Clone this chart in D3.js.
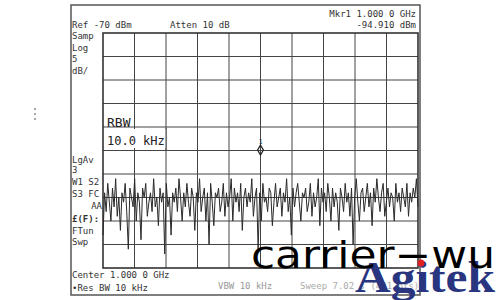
<!DOCTYPE html>
<html>
<head>
<meta charset="utf-8">
<script src="https://cdn.jsdelivr.net/npm/d3@7"></script>
<style>
  body { margin: 0; background: #fff; }
  svg { display: block; }
  .mono { font-family: "DejaVu Sans Mono", "Liberation Mono", monospace; fill: #333; }
</style>
</head>
<body>
<div id="chart"></div>
<script>
// trace values in dBm (left to right)
const noise = [
  -113,-104,-108,-102,-106,-110,-103,-107,-101,-109,
  -105,-112,-104,-106,-102,-108,-116,-103,-105,-107,
  -101,-110,-104,-106,-114,-103,-105,-102,-109,-106,
  -104,-108,-101,-107,-105,-111,-103,-106,-104,-117,
  -102,-107,-105,-113,-104,-106,-103,-108,-101,-105,
  -110,-104,-107,-102,-106,-109,-103,-105,-112,-104,
  -106,-101,-108,-105,-103,-110,-104,-115,-102,-106,
  -111,-104,-105,-103,-108,-106,-102,-109,-104,-107,
  -105,-101,-110,-103,-106,-104,-108,-102,-112,-105,
  -103,-107,-104,-106,-101,-109,-105,-103,-116,-104,
  -110,-102,-106,-105,-108,-103,-104,-111,-106,-102,
  -107,-105,-103,-109,-104,-106,-101,-108,-105,-113,
  -103,-107,-104,-102,-106,-110,-104,-105,-103,-108,
  -106,-102,-109,-104,-107,-105,-101,-111,-103,-106,
  -104,-108,-102,-105,-110,-103,-107,-104,-106,-112,
  -103,-105,-108,-102,-106,-104,-109,-103,-115,-105,
  -101,-106,-110,-104,-103,-108,-105,-102,-107,-104,
  -111,-103,-106,-101,-105,-108,-104,-102,-109,-106,
  -103,-107,-104,-105,-110,-102,-106,-104,-108,-103,
  -105,-107,-102,-109,-104,-106,-103,-105,-101,-107
];
const refLevel = -70;      // dBm, top of screen
const dbPerDiv = 5;
const numDivs = 10;
const markerDiv = 5;       // marker sits on centre division
const markerValue = -94.91;

const headerLeft = ["Ref -70 dBm", "Atten 10 dB"];
const headerRight = ["Mkr1 1.000 0 GHz", "-94.910 dBm"];
const sideTop = ["Samp", "Log", "5", "dB/"];
const sideBottom = ["LgAv", "3", "W1  S2", "S3  FC", "£(F):", "FTun", "Swp"];
const footer = ["Center 1.000 0 GHz", "\u2022Res BW 10 kHz"];

const svg = d3.select("#chart").append("svg")
    .attr("width", 500)
    .attr("height", 300);

const grid = { left: 103, right: 418, top: 33, bottom: 268 };

const x = d3.scaleLinear().domain([0, noise.length - 1]).range([grid.left, grid.right]);
const xDiv = d3.scaleLinear().domain([0, numDivs]).range([grid.left, grid.right]);
const y = d3.scaleLinear()
    .domain([refLevel - dbPerDiv * numDivs, refLevel])
    .range([grid.bottom, grid.top]);

// outer frame of the screen
svg.append("rect")
    .attr("x", 71).attr("y", 5).attr("width", 349).attr("height", 290)
    .style("fill", "none").style("stroke", "#555").style("stroke-width", 1.5);

// three little dots at the left
svg.selectAll(".dot").data([108, 113, 118]).enter().append("rect")
    .attr("x", 34).attr("y", d => d).attr("width", 2).attr("height", 2)
    .style("fill", "#aaa");

// grid
svg.selectAll(".vline").data(d3.range(1, numDivs)).enter().append("line")
    .attr("x1", d => xDiv(d)).attr("x2", d => xDiv(d))
    .attr("y1", grid.top).attr("y2", grid.bottom)
    .style("stroke", "#444").style("stroke-width", 1);
svg.selectAll(".hline").data(y.ticks(numDivs).slice(1, -1)).enter().append("line")
    .attr("x1", grid.left).attr("x2", grid.right)
    .attr("y1", d => y(d)).attr("y2", d => y(d))
    .style("stroke", "#444").style("stroke-width", 1);
svg.append("rect")
    .attr("x", grid.left).attr("y", grid.top)
    .attr("width", grid.right - grid.left).attr("height", grid.bottom - grid.top)
    .style("fill", "none").style("stroke", "#333").style("stroke-width", 1.6);

// trace
svg.append("path")
    .datum(noise)
    .attr("d", d3.line().x((d, i) => x(i)).y(d => y(d)))
    .style("fill", "none").style("stroke", "#2a2a2a").style("stroke-width", 1);

// marker
const mx = xDiv(markerDiv), my = y(markerValue);
svg.append("path")
    .attr("d", d3.symbol().type(d3.symbolDiamond).size(30)())
    .attr("transform", `translate(${mx},${my})`)
    .style("fill", "none").style("stroke", "#222").style("stroke-width", 1.2);
svg.append("text").attr("class", "mono")
    .attr("x", mx).attr("y", my - 6).attr("text-anchor", "middle")
    .style("font-size", "7px").text("1");

// RBW annotation
svg.append("rect").attr("x", 105).attr("y", 115).attr("width", 29).attr("height", 11).style("fill", "#fff");
svg.append("rect").attr("x", 105).attr("y", 129).attr("width", 61).attr("height", 19).style("fill", "#fff");
svg.append("line").attr("x1", 166).attr("x2", 166).attr("y1", 128).attr("y2", 150)
    .style("stroke", "#444");
svg.append("text").attr("class", "mono")
    .attr("x", 107).attr("y", 127).style("font-size", "13px").style("fill", "#222").text("RBW");
svg.append("text").attr("class", "mono")
    .attr("x", 107).attr("y", 145).style("font-size", "12px").style("fill", "#222").text("10.0 kHz");

// header text
svg.selectAll(".hl").data(headerLeft).enter().append("text")
    .attr("class", "mono")
    .attr("x", (d, i) => [72, 170][i]).attr("y", 28)
    .style("font-size", "9px").text(d => d);
svg.selectAll(".hr").data(headerRight).enter().append("text")
    .attr("class", "mono")
    .attr("x", 416).attr("y", (d, i) => 17 + i * 11)
    .attr("text-anchor", "end")
    .style("font-size", "9px").text(d => d);

// side annotations
svg.selectAll(".st").data(sideTop).enter().append("text")
    .attr("class", "mono")
    .attr("x", 72).attr("y", (d, i) => 39 + i * 11.5)
    .style("font-size", "9px").text(d => d);
const sideY = [163, 173, 185, 197, 222, 234, 245];
svg.selectAll(".sb").data(sideBottom).enter().append("text")
    .attr("class", "mono")
    .attr("x", 72).attr("y", (d, i) => sideY[i])
    .style("font-size", "9px")
    .style("font-weight", d => d.startsWith("£") ? "bold" : "normal")
    .text(d => d);
svg.append("text").attr("class", "mono")
    .attr("x", 102).attr("y", 209).attr("text-anchor", "end")
    .style("font-size", "9px").text("AA");

// footer
svg.selectAll(".ft").data(footer).enter().append("text")
    .attr("class", "mono")
    .attr("x", 72).attr("y", (d, i) => 278 + i * 13)
    .style("font-size", "9px").text(d => d);
svg.append("text").attr("class", "mono")
    .attr("x", 218).attr("y", 289).style("font-size", "9px").style("fill", "#999")
    .text("VBW 10 kHz");
svg.append("text").attr("class", "mono")
    .attr("x", 300).attr("y", 289).style("font-size", "9px").style("fill", "#aaa")
    .text("Sweep 7.02 s (401 pts)");

// watermarks
svg.append("text")
    .attr("x", 355).attr("y", 292)
    .style("font-family", "Liberation Serif, serif").style("font-weight", "bold")
    .style("font-size", "44px").style("fill", "#2a3580")
    .attr("textLength", 140).attr("lengthAdjust", "spacingAndGlyphs")
    .text("Agitek");
svg.append("text")
    .attr("x", 251).attr("y", 268)
    .style("font-family", "DejaVu Sans, sans-serif")
    .style("font-size", "38px").style("fill", "#000")
    .attr("textLength", 244).attr("lengthAdjust", "spacingAndGlyphs")
    .text("carrier\u2212wu");
svg.append("circle").attr("cx", 421).attr("cy", 263).attr("r", 3.5).style("fill", "#e02020");
</script>
</body>
</html>
